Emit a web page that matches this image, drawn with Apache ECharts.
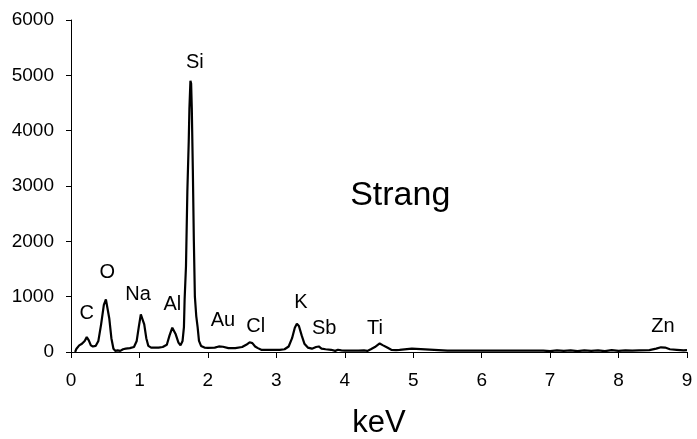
<!DOCTYPE html>
<html>
<head>
<meta charset="utf-8">
<style>
  html, body { margin: 0; padding: 0; background: #fff; }
  #chart { width: 697px; height: 439px; }
</style>
<script src="https://cdn.jsdelivr.net/npm/echarts@6/dist/echarts.min.js"></script>
</head>
<body>
<div id="chart"></div>
<script>
// EDS spectrum: energy (keV) and counts
const energy = [
  0.06, 0.08, 0.12, 0.16, 0.20, 0.23, 0.26, 0.29, 0.32, 0.36,
  0.40, 0.44, 0.48, 0.51, 0.53, 0.56, 0.59, 0.62, 0.65, 0.68,
  0.72, 0.76, 0.80, 0.86, 0.92, 0.96, 0.99, 1.02, 1.04, 1.07,
  1.10, 1.13, 1.17, 1.22, 1.28, 1.34, 1.40, 1.44, 1.48, 1.50,
  1.53, 1.57, 1.60, 1.63, 1.65, 1.66, 1.68, 1.70, 1.72, 1.73,
  1.745, 1.755, 1.765, 1.78, 1.795, 1.81, 1.83, 1.85, 1.87, 1.90,
  1.95, 2.00, 2.10, 2.16, 2.22, 2.30, 2.40, 2.50, 2.56, 2.61,
  2.65, 2.69, 2.73, 2.78, 2.85, 2.95, 3.05, 3.12, 3.18, 3.23,
  3.27, 3.30, 3.33, 3.37, 3.41, 3.46, 3.52, 3.58, 3.62, 3.66,
  3.72, 3.80, 3.86, 3.90, 3.95, 4.00, 4.10, 4.20, 4.28, 4.33,
  4.38, 4.44, 4.51, 4.56, 4.62, 4.68, 4.75, 4.80, 4.82, 4.98,
  5.00, 5.50, 6.00, 6.50, 6.90, 7.00, 7.10, 7.20, 7.30, 7.40,
  7.50, 7.60, 7.70, 7.80, 7.90, 8.00, 8.10, 8.20, 8.30, 8.45,
  8.55, 8.62, 8.68, 8.75, 8.85, 8.95, 9.00
];
const counts = [
  0, 60, 120, 150, 200, 270, 210, 120, 100, 110,
  200, 500, 850, 950, 930, 600, 250, 60, 20, 30,
  20, 50, 60, 70, 90, 200, 450, 680, 690, 500,
  250, 110, 80, 80, 80, 90, 130, 300, 440, 430,
  320, 170, 120, 200, 450, 950, 1550, 2900, 3800, 4400,
  4900, 4850, 4400, 3300, 2000, 1000, 650, 450, 200, 110,
  80, 75, 80, 100, 95, 70, 70, 90, 130, 175,
  160, 100, 70, 40, 40, 40, 40, 50, 100, 250,
  440, 510, 470, 300, 150, 80, 60, 90, 100, 60,
  50, 40, 20, 40, 30, 25, 25, 25, 30, 20,
  50, 90, 155, 120, 80, 40, 35, 40, 60, 60,
  25, 25, 25, 25, 25, 15, 30, 20, 30, 15,
  30, 20, 30, 15, 35, 20, 30, 25, 30, 35,
  60, 85, 80, 50, 40, 30, 35
];

// Element labels and where they sit (keV, counts)
const elements = ['C', 'O', 'Na', 'Al', 'Si', 'Au', 'Cl', 'K', 'Sb', 'Ti', 'Zn'];
const elementKeV = [0.23, 0.53, 0.98, 1.48, 1.81, 2.22, 2.70, 3.36, 3.70, 4.44, 8.65];
const elementY = [705, 1446, 1048, 867, 5240, 578, 470, 903, 434, 434, 470];

const sampleName = 'Strang';
const samplePos = [4.81, 2820];

const yTicks = [0, 1000, 2000, 3000, 4000, 5000, 6000];
const xTicks = [0, 1, 2, 3, 4, 5, 6, 7, 8, 9];

const FONT = 'Liberation Sans, Arial, sans-serif';

const spectrum = energy.map((e, i) => [e, counts[i]]);
const labelPoints = elements.map((name, i) => ({
  name: name,
  value: [elementKeV[i], elementY[i]]
}));
labelPoints.push({
  name: sampleName,
  value: samplePos,
  label: { fontSize: 34 }
});

const chart = echarts.init(document.getElementById('chart'));
chart.setOption({
  animation: false,
  backgroundColor: '#fff',
  grid: {
    left: 71, right: 10, top: 20, bottom: 87,
    containLabel: false,
    outerBoundsMode: 'none'
  },
  xAxis: {
    type: 'value',
    min: xTicks[0],
    max: xTicks[xTicks.length - 1],
    interval: 1,
    name: 'keV',
    nameLocation: 'middle',
    nameGap: 56,
    nameTextStyle: { fontFamily: FONT, fontSize: 31, color: '#000' },
    axisLine: { lineStyle: { color: '#000', width: 1 } },
    axisTick: { show: true, length: 6, lineStyle: { color: '#000' } },
    axisLabel: { fontFamily: FONT, fontSize: 19, color: '#000', margin: 19 },
    splitLine: { show: false }
  },
  yAxis: {
    type: 'value',
    min: yTicks[0],
    max: yTicks[yTicks.length - 1],
    interval: 1000,
    axisLine: { show: true, lineStyle: { color: '#000', width: 1 } },
    axisTick: { show: true, length: 5, lineStyle: { color: '#000' } },
    axisLabel: {
      fontFamily: FONT, fontSize: 19, color: '#000', margin: 17,
      formatter: v => String(v)
    },
    splitLine: { show: false }
  },
  series: [
    {
      type: 'line',
      data: spectrum,
      showSymbol: false,
      smooth: false,
      lineStyle: { color: '#000', width: 2.2 },
      z: 3
    },
    {
      type: 'scatter',
      data: labelPoints,
      symbolSize: 0,
      silent: true,
      itemStyle: { opacity: 1 },
      label: {
        show: true,
        position: 'inside',
        formatter: p => p.name,
        fontFamily: FONT,
        fontSize: 20,
        color: '#000',
        opacity: 1
      },
      z: 4
    }
  ]
});
</script>
</body>
</html>
